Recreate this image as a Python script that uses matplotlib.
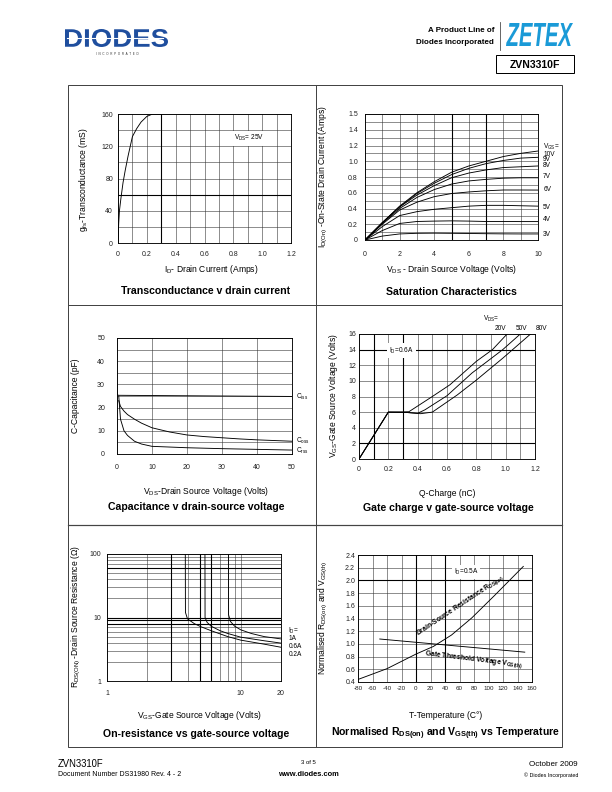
import matplotlib
matplotlib.use("Agg")
import matplotlib.pyplot as plt
import numpy as np
from matplotlib.font_manager import FontProperties
from matplotlib.textpath import TextPath
from matplotlib.patches import PathPatch, Rectangle
from matplotlib.transforms import Affine2D

plt.rcParams['font.family'] = ['Liberation Sans', 'DejaVu Sans']
plt.rcParams['mathtext.fontset'] = 'custom'
plt.rcParams['mathtext.rm'] = 'Liberation Sans'
plt.rcParams['mathtext.it'] = 'Liberation Sans:italic'
plt.rcParams['mathtext.bf'] = 'Liberation Sans:bold'
plt.rcParams['axes.unicode_minus'] = False

W, H = 612, 792

# ---- data ----
# transconductance
gfs_id = [0, 0.005, 0.01, 0.02, 0.035, 0.05, 0.07, 0.1, 0.13, 0.16, 0.2, 0.24, 0.3]
gfs_val = [0, 25, 40, 55, 75, 90, 108, 132, 142, 150, 157, 160, 160]

# saturation characteristics
sat_vds = [0, 1, 2, 3, 4, 5, 6, 7, 8, 9, 10]
sat_curves = {
    '10V': [0, 0.22, 0.43, 0.60, 0.74, 0.86, 0.94, 1.00, 1.06, 1.10, 1.13],
    '9V': [0, 0.22, 0.42, 0.59, 0.72, 0.83, 0.91, 0.97, 1.01, 1.04, 1.05],
    '8V': [0, 0.22, 0.42, 0.57, 0.69, 0.79, 0.85, 0.89, 0.92, 0.93, 0.94],
    '7V': [0, 0.21, 0.40, 0.54, 0.64, 0.71, 0.75, 0.77, 0.785, 0.79, 0.79],
    '6V': [0, 0.20, 0.38, 0.48, 0.55, 0.59, 0.61, 0.625, 0.635, 0.635, 0.634],
    '5V': [0, 0.17, 0.31, 0.36, 0.39, 0.41, 0.43, 0.44, 0.44, 0.435, 0.43],
    '4V': [0, 0.12, 0.21, 0.235, 0.24, 0.243, 0.24, 0.235, 0.235, 0.234, 0.234],
    '3V': [0, 0.05, 0.077, 0.085, 0.087, 0.085, 0.083, 0.08, 0.078, 0.077, 0.077],
}
sat_label_y = {'VGS=': 1.18, '10V': 1.09, '9V': 1.02, '8V': 0.94, '7V': 0.80,
               '6V': 0.64, '5V': 0.41, '4V': 0.26, '3V': 0.07}
sat_yticks = [0, 0.2, 0.4, 0.6, 0.8, 1.0, 1.2, 1.4, 1.6]
sat_yticklabels = ['0', '0.2', '0.4', '0.6', '0.8', '1.0', '1.2', '1.4', '1.5']

# capacitance
ciss_v = [0, 0, 0.5, 50]
ciss_c = [30, 25.5, 25.3, 24.8]
cap_v = [0.5, 1, 2, 3, 5, 7, 10, 15, 20, 25, 30, 35, 40, 45, 50]
coss_c = [23, 20.5, 18.5, 17, 15, 13.3, 11.3, 9.5, 8.2, 7.5, 7, 6.5, 6.1, 5.8, 5.5]
crss_c = [25, 15, 10, 8, 5.5, 4.3, 3.3, 3.0, 2.7, 2.5, 2.3, 2.15, 2.0, 1.85, 1.7]

# gate charge
qg_20_q = [0, 0.2, 0.34, 0.5, 0.62, 0.8, 0.91, 1.01]
qg_20_v = [0, 6, 6.05, 8, 9.5, 12.5, 14, 16]
qg_50_q = [0, 0.2, 0.33, 0.4, 0.45, 0.6, 0.77, 0.98, 1.1]
qg_50_v = [0, 6, 5.95, 5.85, 6.3, 8.1, 11, 14, 16]
qg_80_q = [0, 0.2, 0.33, 0.42, 0.5, 0.67, 0.8, 0.98, 1.17]
qg_80_v = [0, 6, 5.95, 5.8, 6.0, 8.2, 10.1, 12.9, 16]

# on-resistance vs VGS
ron_02_v = [3.85, 3.86, 4.0, 4.5, 5.0, 6.0, 8.0, 10, 15, 20]
ron_02_r = [100, 12, 9.5, 8.0, 7.2, 6.2, 5.0, 4.4, 3.8, 3.4]
ron_06_v = [5.4, 5.41, 5.6, 6.0, 7.0, 8.0, 10, 15, 20]
ron_06_r = [100, 10, 8.4, 7.3, 6.2, 5.6, 4.9, 4.3, 3.95]
ron_1_v = [8.1, 8.11, 8.4, 9.0, 10, 12, 15, 20]
ron_1_r = [100, 11, 8.6, 7.3, 6.4, 5.6, 5.0, 4.6]

# normalised vs temperature
rds_t = [-80, -40, 0, 24, 49, 77, 109, 148]
rds_n = [0.44, 0.61, 0.84, 0.96, 1.14, 1.41, 1.77, 2.22]
vth_t = [-50, 150]
vth_n = [1.077, 0.87]

TICK = 7
LAB = 8.5
TITLE = 10.5
NOTE = 6.5

fig = plt.figure(figsize=(W / 72, H / 72), dpi=72)
page = fig.add_axes([0, 0, 1, 1])
page.set_xlim(0, W)
page.set_ylim(H, 0)
page.axis('off')


def fit_text(s, x0, y0, x1, y1, color, style='normal'):
    fp = FontProperties(family='Liberation Sans', weight='bold', style=style)
    tp = TextPath((0, 0), s, size=1, prop=fp)
    ext = tp.get_extents()
    sx = (x1 - x0) / ext.width
    sy = (y1 - y0) / ext.height
    tr = (Affine2D().translate(-ext.x0, -ext.y0).scale(sx, -sy).translate(x0, y1)
          + page.transData)
    page.add_patch(PathPatch(tp, transform=tr, facecolor=color, lw=0))


def panel(x0, y0, x1, y1):
    ax = fig.add_axes([x0 / W, 1 - y1 / H, (x1 - x0) / W, (y1 - y0) / H])
    for s in ax.spines.values():
        s.set_linewidth(0.9)
    ax.tick_params(which='both', length=0, labelsize=TICK, labelcolor='#222')
    ax.set_axisbelow(True)
    ax.grid(which='both', color='#333', lw=0.55)
    return ax


def heavy(ax, xs=(), ys=()):
    for x in xs:
        ax.axvline(x, color='black', lw=1.1, zorder=1)
    for y in ys:
        ax.axhline(y, color='black', lw=1.1, zorder=1)


# ---- header ----
fit_text('DIODES', 65, 29, 168, 47, '#1f4e9e')
page.plot([67, 163], [38.3, 38.3], color='white', lw=1.1)
page.text(117, 54, 'I  N  C  O  R  P  O  R  A  T  E  D', size=3, ha='center',
          va='center', color='#333')
page.text(494, 30, 'A Product Line of', size=8, weight='bold', ha='right', va='center')
page.text(494, 42, 'Diodes Incorporated', size=8, weight='bold', ha='right', va='center')
page.plot([500, 500], [22, 50], color='#444', lw=0.8)
fit_text('ZETEX', 506, 23, 573, 46, '#1a9ad7', style='italic')
page.add_patch(Rectangle((496, 55), 78, 18, fill=False, ec='black', lw=1))
page.text(535, 64.5, 'ZVN3310F', size=10.5, weight='bold', ha='center', va='center')

# ---- frames ----
page.add_patch(Rectangle((68, 85), 494, 662, fill=False, ec='#444', lw=1))
page.plot([316, 316], [85, 747], color='#444', lw=1)
page.plot([68, 562], [305, 305], color='#444', lw=1)
page.plot([68, 562], [525, 525], color='#444', lw=1.2)

# ---- panel 1: transconductance ----
ax1 = panel(118, 114, 291, 243)
ax1.set_xlim(0, 1.2)
ax1.set_ylim(0, 160)
ax1.set_xticks([0, 0.2, 0.4, 0.6, 0.8, 1.0, 1.2], ['0', '0.2', '0.4', '0.6', '0.8', '1.0', '1.2'])
ax1.set_xticks(np.arange(0.1, 1.2, 0.2), minor=True)
ax1.set_yticks([0, 40, 80, 120, 160])
ax1.set_yticks([20, 60, 100, 140], minor=True)
ax1.tick_params(axis='x', pad=8)
ax1.tick_params(axis='y', pad=5)
heavy(ax1, xs=[0.3], ys=[60])
ax1.plot(gfs_id, gfs_val, color='black', lw=0.9, zorder=3)
ax1.text(0.91, 130, r'V$_{\mathrm{DS}}$= 25V', size=NOTE, ha='center', va='center',
         zorder=4, bbox=dict(fc='white', ec='none', pad=2.5))
page.text(83, 180, r'g$_{\mathrm{fs}}$-Transconductance (mS)', size=LAB, rotation=90,
          ha='center', va='center')
page.text(211, 270, r'I$_{\mathrm{D}}$- Drain Current (Amps)', size=LAB, ha='center', va='center')
page.text(206, 291, 'Transconductance v drain current', size=TITLE, weight='bold',
          ha='center', va='center')

# ---- panel 2: saturation ----
ax2 = panel(365, 114, 538, 240)
ax2.set_xlim(0, 10)
ax2.set_ylim(0, 1.6)
ax2.set_xticks([0, 2, 4, 6, 8, 10])
ax2.set_xticks([1, 3, 5, 7, 9], minor=True)
ax2.set_yticks(sat_yticks, sat_yticklabels)
ax2.set_yticks(np.arange(0.1, 1.6, 0.2), minor=True)
ax2.tick_params(axis='x', pad=11)
ax2.tick_params(axis='y', pad=7)
heavy(ax2, xs=[5, 7])
for name, vals in sat_curves.items():
    ax2.plot(sat_vds, vals, color='black', lw=0.9, zorder=3)
for name, y in sat_label_y.items():
    lab = r'V$_{\mathrm{GS}}$=' if name == 'VGS=' else name
    ax2.text(10.3, y, lab, size=NOTE, ha='left', va='center', clip_on=False)
page.text(323, 177, r'I$_{\mathrm{D(On)}}$ -On-State Drain Current (Amps)', size=LAB,
          rotation=90, ha='center', va='center')
page.text(451, 270, r'V$_{\mathrm{DS}}$ - Drain Source Voltage (Volts)', size=LAB,
          ha='center', va='center')
page.text(451, 292, 'Saturation Characteristics', size=TITLE, weight='bold',
          ha='center', va='center')

# ---- panel 3: capacitance ----
ax3 = panel(117, 338, 292, 454)
ax3.set_xlim(0, 50)
ax3.set_ylim(0, 50)
ax3.set_xticks([0, 10, 20, 30, 40, 50])
ax3.set_yticks([0, 10, 20, 30, 40, 50])
ax3.set_yticks([5, 15, 25, 35, 45], minor=True)
ax3.tick_params(axis='x', pad=10)
ax3.tick_params(axis='y', pad=12)
ax3.plot(ciss_v, ciss_c, color='black', lw=0.9, zorder=3)
ax3.plot(cap_v, coss_c, color='black', lw=0.9, zorder=3)
ax3.plot(cap_v, crss_c, color='black', lw=0.9, zorder=3)
for lab, y in [(r'C$_{\mathrm{iss}}$', 24.8), (r'C$_{\mathrm{oss}}$', 5.8), (r'C$_{\mathrm{rss}}$', 1.5)]:
    ax3.text(51.2, y, lab, size=NOTE, ha='left', va='center', clip_on=False)
page.text(75, 396, 'C-Capacitance (pF)', size=LAB, rotation=90, ha='center', va='center')
page.text(206, 491, r'V$_{\mathrm{DS}}$-Drain Source Voltage (Volts)', size=LAB,
          ha='center', va='center')
page.text(196, 507, 'Capacitance v drain-source voltage', size=TITLE, weight='bold',
          ha='center', va='center')

# ---- panel 4: gate charge ----
ax4 = panel(359, 334, 535, 459)
ax4.set_xlim(0, 1.2)
ax4.set_ylim(0, 16)
ax4.set_xticks([0, 0.2, 0.4, 0.6, 0.8, 1.0, 1.2], ['0', '0.2', '0.4', '0.6', '0.8', '1.0', '1.2'])
ax4.set_xticks(np.arange(0.1, 1.2, 0.2), minor=True)
ax4.set_yticks(np.arange(0, 17, 2))
ax4.tick_params(axis='x', pad=7)
ax4.tick_params(axis='y', pad=3)
heavy(ax4, xs=[0.1, 0.3], ys=[2, 14])
ax4.plot(qg_20_q, qg_20_v, color='black', lw=0.9, zorder=3)
ax4.plot(qg_50_q, qg_50_v, color='black', lw=0.9, zorder=3)
ax4.plot(qg_80_q, qg_80_v, color='black', lw=0.9, zorder=3)
ax4.text(0.29, 13.9, r'I$_{\mathrm{D}}$=0.6A', size=NOTE, ha='center', va='center',
         zorder=4, bbox=dict(fc='white', ec='none', pad=2))
page.text(483, 319, r'V$_{\mathrm{DS}}$=', size=NOTE, ha='left', va='center')
for lab, x in [('20V', 500.5), ('50V', 522), ('80V', 542)]:
    page.text(x, 328, lab, size=NOTE, ha='center', va='center')
page.text(334, 396, r'V$_{\mathrm{GS}}$-Gate Source Voltage (Volts)', size=LAB,
          rotation=90, ha='center', va='center')
page.text(447, 493, 'Q-Charge (nC)', size=LAB, ha='center', va='center')
page.text(448, 508, 'Gate charge v gate-source voltage', size=TITLE, weight='bold',
          ha='center', va='center')

# ---- panel 5: on-resistance ----
ax5 = panel(107, 554, 281, 681)
ax5.set_xscale('log')
ax5.set_yscale('log')
ax5.set_xlim(1, 20)
ax5.set_ylim(1, 100)
ax5.set_xticks([1, 10, 20], ['1', '10', '20'])
ax5.set_xticks([2, 3, 4, 5, 6, 7, 8, 9], minor=True, labels=[])
ax5.set_yticks([1, 10, 100], ['1', '10', '100'])
ax5.set_yticks([2, 3, 4, 5, 6, 7, 8, 9, 20, 30, 40, 50, 60, 70, 80, 90], minor=True, labels=[])
ax5.tick_params(axis='x', pad=9)
ax5.tick_params(axis='y', pad=6)
heavy(ax5, xs=[3, 5, 6], ys=[8, 9, 10, 60])
ax5.plot(ron_02_v, ron_02_r, color='black', lw=0.9, zorder=3)
ax5.plot(ron_06_v, ron_06_r, color='black', lw=0.9, zorder=3)
ax5.plot(ron_1_v, ron_1_r, color='black', lw=0.9, zorder=3)
for lab, y in [(r'I$_{\mathrm{D}}$=', 631), ('1A', 638.5), ('0.6A', 647), ('0.2A', 655)]:
    page.text(288.5, y, lab, size=NOTE, ha='left', va='center')
page.text(76, 617, r'R$_{\mathrm{DS(ON)}}$ -Drain Source Resistance (Ω)', size=LAB,
          rotation=90, ha='center', va='center')
page.text(199, 715, r'V$_{\mathrm{GS}}$-Gate Source Voltage (Volts)', size=LAB,
          ha='center', va='center')
page.text(196, 734, 'On-resistance vs gate-source voltage', size=TITLE, weight='bold',
          ha='center', va='center')

# ---- panel 6: temperature ----
ax6 = panel(358, 555, 532, 682)
ax6.set_xlim(-80, 160)
ax6.set_ylim(0.4, 2.4)
ax6.set_xticks(np.arange(-80, 161, 20))
ax6.set_yticks(np.round(np.arange(0.4, 2.41, 0.2), 1),
               ['0.4', '0.6', '0.8', '1.0', '1.2', '1.4', '1.6', '1.8', '2.0', '2.2', '2.4'])
ax6.tick_params(axis='x', pad=4.5, labelsize=6.3)
ax6.tick_params(axis='y', pad=3)
heavy(ax6, xs=[0, 40], ys=[2.0])
ax6.plot(rds_t, rds_n, color='black', lw=0.9, zorder=3)
ax6.plot(vth_t, vth_n, color='black', lw=0.9, zorder=3)
ax6.text(69, 2.13, r'I$_{\mathrm{D}}$=0.5A', size=NOTE, ha='center', va='center',
         zorder=4, bbox=dict(fc='white', ec='none', pad=2))
ax6.text(61.6, 1.60, r'Drain-Source Resistance R$_{\mathbf{DS(on)}}$', size=6.8,
         weight='bold', rotation=33.7, rotation_mode='anchor', ha='center', va='center',
         zorder=4)
ax6.text(80, 0.76, r'Gate Threshold Voltage V$_{\mathbf{GS(th)}}$', size=6.8,
         weight='bold', rotation=-6.9, rotation_mode='anchor', ha='center', va='center',
         zorder=4)
page.text(323, 618, r'Normalised R$_{\mathrm{DS(on)}}$ and V$_{\mathrm{GS(th)}}$', size=LAB,
          rotation=90, ha='center', va='center')
page.text(446, 716, 'T-Temperature (C°)', size=LAB, ha='center', va='center')
page.text(446, 734, r'Normalised R$_{\mathbf{DS(on)}}$ and V$_{\mathbf{GS(th)}}$ vs Temperature',
          size=TITLE, weight='bold', ha='center', va='center')

# ---- footer ----
page.text(58, 764, 'ZVN3310F', size=9.5, ha='left', va='center')
page.text(58, 775, 'Document Number DS31980 Rev. 4 - 2', size=7, ha='left', va='center')
page.text(308, 763, '3 of 5', size=6, ha='center', va='center')
page.text(308, 774, 'www.diodes.com', size=7.5, weight='bold', ha='center', va='center')
page.text(578, 764, 'October 2009', size=8, ha='right', va='center')
page.text(578, 775, '© Diodes Incorporated', size=5.4, ha='right', va='center')

fig.savefig('out.png', dpi=72)
